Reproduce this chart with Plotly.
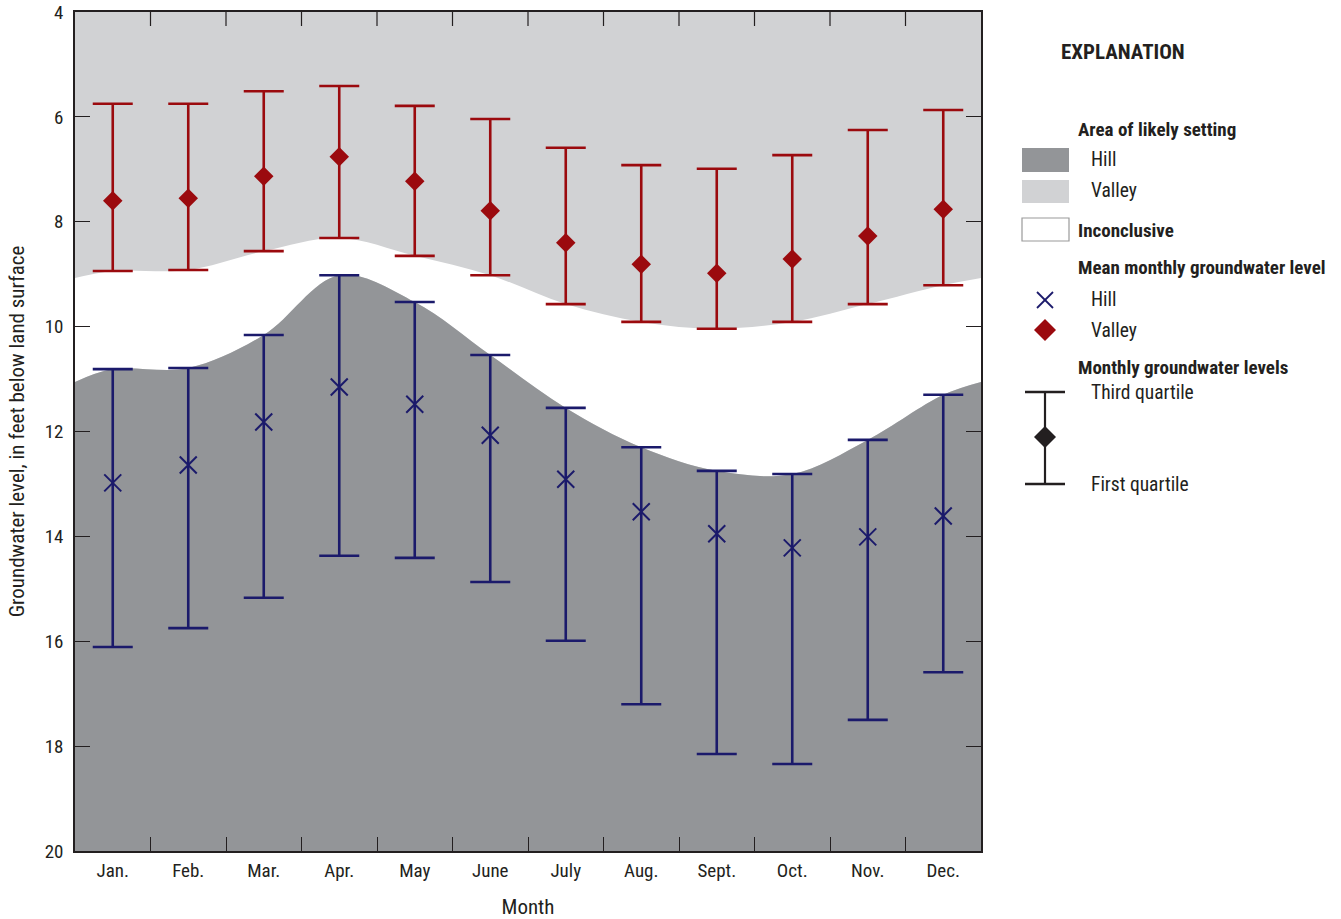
import plotly.graph_objects as go

months = ["Jan.", "Feb.", "Mar.", "Apr.", "May", "June", "July", "Aug.", "Sept.", "Oct.", "Nov.", "Dec."]
month_pos = list(range(1, 13))

valley_mean = [7.60, 7.55, 7.13, 6.76, 7.23, 7.79, 8.40, 8.81, 8.98, 8.71, 8.27, 7.76]
valley_q3 = [5.75, 5.75, 5.51, 5.41, 5.79, 6.04, 6.59, 6.92, 6.99, 6.73, 6.25, 5.87]
valley_q1 = [8.94, 8.92, 8.56, 8.31, 8.65, 9.02, 9.57, 9.91, 10.04, 9.91, 9.57, 9.21]

hill_mean = [12.98, 12.64, 11.82, 11.15, 11.48, 12.07, 12.91, 13.53, 13.95, 14.22, 14.01, 13.61]
hill_q3 = [10.81, 10.79, 10.16, 9.02, 9.53, 10.54, 11.55, 12.30, 12.75, 12.81, 12.16, 11.30]
hill_q1 = [16.11, 15.75, 15.17, 14.37, 14.41, 14.87, 15.99, 17.20, 18.15, 18.34, 17.50, 16.59]

y_ticks = [4, 6, 8, 10, 12, 14, 16, 18, 20]
month_bounds = [1.5, 2.5, 3.5, 4.5, 5.5, 6.5, 7.5, 8.5, 9.5, 10.5, 11.5]

VALLEY_BG = "#d1d2d4"
HILL_BG = "#939598"
RED = "#9b0a0e"
NAVY = "#1b1a6b"
INK = "#231f20"
FONT = "Liberation Sans Narrow, Roboto Condensed, Arial Narrow, Liberation Sans, sans-serif"


def wrap(vals):
    edge = (vals[0] + vals[-1]) / 2
    return [edge] + list(vals) + [edge]


x_edge = [0.5] + month_pos + [12.5]
valley_bound = wrap(valley_q1)
hill_bound = wrap(hill_q3)

fig = go.Figure()
fig.add_trace(go.Scatter(x=x_edge, y=valley_bound, mode="lines",
                         line=dict(width=0, shape="spline", color=VALLEY_BG),
                         hoverinfo="skip", showlegend=False))
fig.add_trace(go.Scatter(x=x_edge, y=hill_bound, mode="lines", fill="tonexty",
                         fillcolor="white",
                         line=dict(width=0, shape="spline", color="white"),
                         hoverinfo="skip", showlegend=False))
fig.add_trace(go.Scatter(x=x_edge, y=[20] * len(x_edge), mode="lines", fill="tonexty",
                         fillcolor=HILL_BG, line=dict(width=0, color=HILL_BG),
                         hoverinfo="skip", showlegend=False))

fig.add_trace(go.Scatter(
    x=month_pos, y=valley_mean, mode="markers",
    marker=dict(symbol="diamond", size=15, color=RED),
    error_y=dict(type="data", symmetric=False,
                 array=[q1 - m for q1, m in zip(valley_q1, valley_mean)],
                 arrayminus=[m - q3 for q3, m in zip(valley_q3, valley_mean)],
                 color=RED, thickness=2.6, width=20),
    showlegend=False))

fig.add_trace(go.Scatter(
    x=month_pos, y=hill_mean, mode="markers",
    marker=dict(symbol="x-thin", size=17, line=dict(color=NAVY, width=2), color=NAVY),
    error_y=dict(type="data", symmetric=False,
                 array=[q1 - m for q1, m in zip(hill_q1, hill_mean)],
                 arrayminus=[m - q3 for q3, m in zip(hill_q3, hill_mean)],
                 color=NAVY, thickness=2.6, width=20),
    showlegend=False))

L, R, T, B = 75, 360, 12, 68
W, H = 1341, 919
PW, PH = W - L - R, H - T - B


def px(x):
    return (x - L) / PW


def py(y):
    return (H - B - y) / PH


fig.update_layout(
    width=W, height=H,
    margin=dict(l=L, r=R, t=T, b=B, pad=0, autoexpand=False),
    paper_bgcolor="white", plot_bgcolor=VALLEY_BG,
    font=dict(family=FONT, size=19, color=INK),
    showlegend=False,
    xaxis=dict(
        range=[0.5, 12.5], tickvals=month_pos, ticktext=months, ticks="",
        showline=True, linecolor=INK, linewidth=1.5, mirror=True, showgrid=False, zeroline=False,
        minor=dict(ticks="inside", tickvals=month_bounds, ticklen=14, tickcolor=INK, tickwidth=1.2,
                   showgrid=False),
        title=dict(text="Month", font=dict(size=21), standoff=22),
        tickfont=dict(size=19), automargin=False, ticklabelstandoff=1,
    ),
    yaxis=dict(
        range=[20, 4], tickvals=y_ticks, ticks="inside", ticklen=15, tickcolor=INK, tickwidth=1.2,
        showline=True, linecolor=INK, linewidth=1.5, mirror="ticks", showgrid=False, zeroline=False,
        title=dict(text="Groundwater level, in feet below land surface", font=dict(size=21), standoff=14),
        tickfont=dict(size=19), automargin=False, ticklabelstandoff=6,
    ),
)

shapes = []
ann = []

# top-edge month-boundary ticks (mirror of the bottom minor ticks)
for xb in month_bounds:
    shapes.append(dict(type="line", xref="x", yref="paper", x0=xb, x1=xb, y0=1, y1=1 - 14 / PH,
                       line=dict(color=INK, width=1.2), layer="above"))


def text(x, y, s, bold=False, size=19):
    ann.append(dict(xref="paper", yref="paper", x=px(x), y=py(y), text=("<b>%s</b>" % s) if bold else s,
                    showarrow=False, xanchor="left", yanchor="middle",
                    font=dict(family=FONT, size=size, color=INK)))


def rect(x0, y0, x1, y1, fill, line=None):
    shapes.append(dict(type="rect", xref="paper", yref="paper", x0=px(x0), x1=px(x1), y0=py(y1), y1=py(y0),
                       fillcolor=fill, line=dict(color=line or fill, width=1.2 if line else 0), layer="above"))


def seg(x0, y0, x1, y1, color, w):
    shapes.append(dict(type="line", xref="paper", yref="paper", x0=px(x0), x1=px(x1), y0=py(y0), y1=py(y1),
                       line=dict(color=color, width=w), layer="above"))


def diamond(cx, cy, r, color):
    path = "M %f,%f L %f,%f L %f,%f L %f,%f Z" % (
        px(cx), py(cy - r), px(cx + r), py(cy), px(cx), py(cy + r), px(cx - r), py(cy))
    shapes.append(dict(type="path", xref="paper", yref="paper", path=path,
                       fillcolor=color, line=dict(color=color, width=0), layer="above"))


text(1059, 52, "EXPLANATION", bold=True, size=21)
text(1076, 129, "Area of likely setting", bold=True)
rect(1022, 148, 1069, 172, HILL_BG)
text(1089, 160, "Hill", size=19.5)
rect(1022, 180, 1069, 203, VALLEY_BG)
text(1089, 191, "Valley", size=19.5)
rect(1022, 218, 1069, 241, "white", line="#9a9a9a")
text(1076, 230, "Inconclusive", bold=True)
text(1076, 267, "Mean monthly groundwater level", bold=True)
seg(1037, 292, 1053, 308, NAVY, 1.8)
seg(1037, 308, 1053, 292, NAVY, 1.8)
text(1089, 300, "Hill", size=19.5)
diamond(1045, 330, 11, RED)
text(1089, 330, "Valley", size=19.5)
text(1076, 367, "Monthly groundwater levels", bold=True)
seg(1045, 392, 1045, 484, INK, 2.2)
seg(1025, 392, 1065, 392, INK, 2.5)
seg(1025, 484, 1065, 484, INK, 2.5)
diamond(1045, 437, 11, INK)
text(1089, 392, "Third quartile", size=19.5)
text(1089, 484, "First quartile", size=19.5)

fig.update_layout(shapes=shapes, annotations=ann)

fig.write_html("out.html")
